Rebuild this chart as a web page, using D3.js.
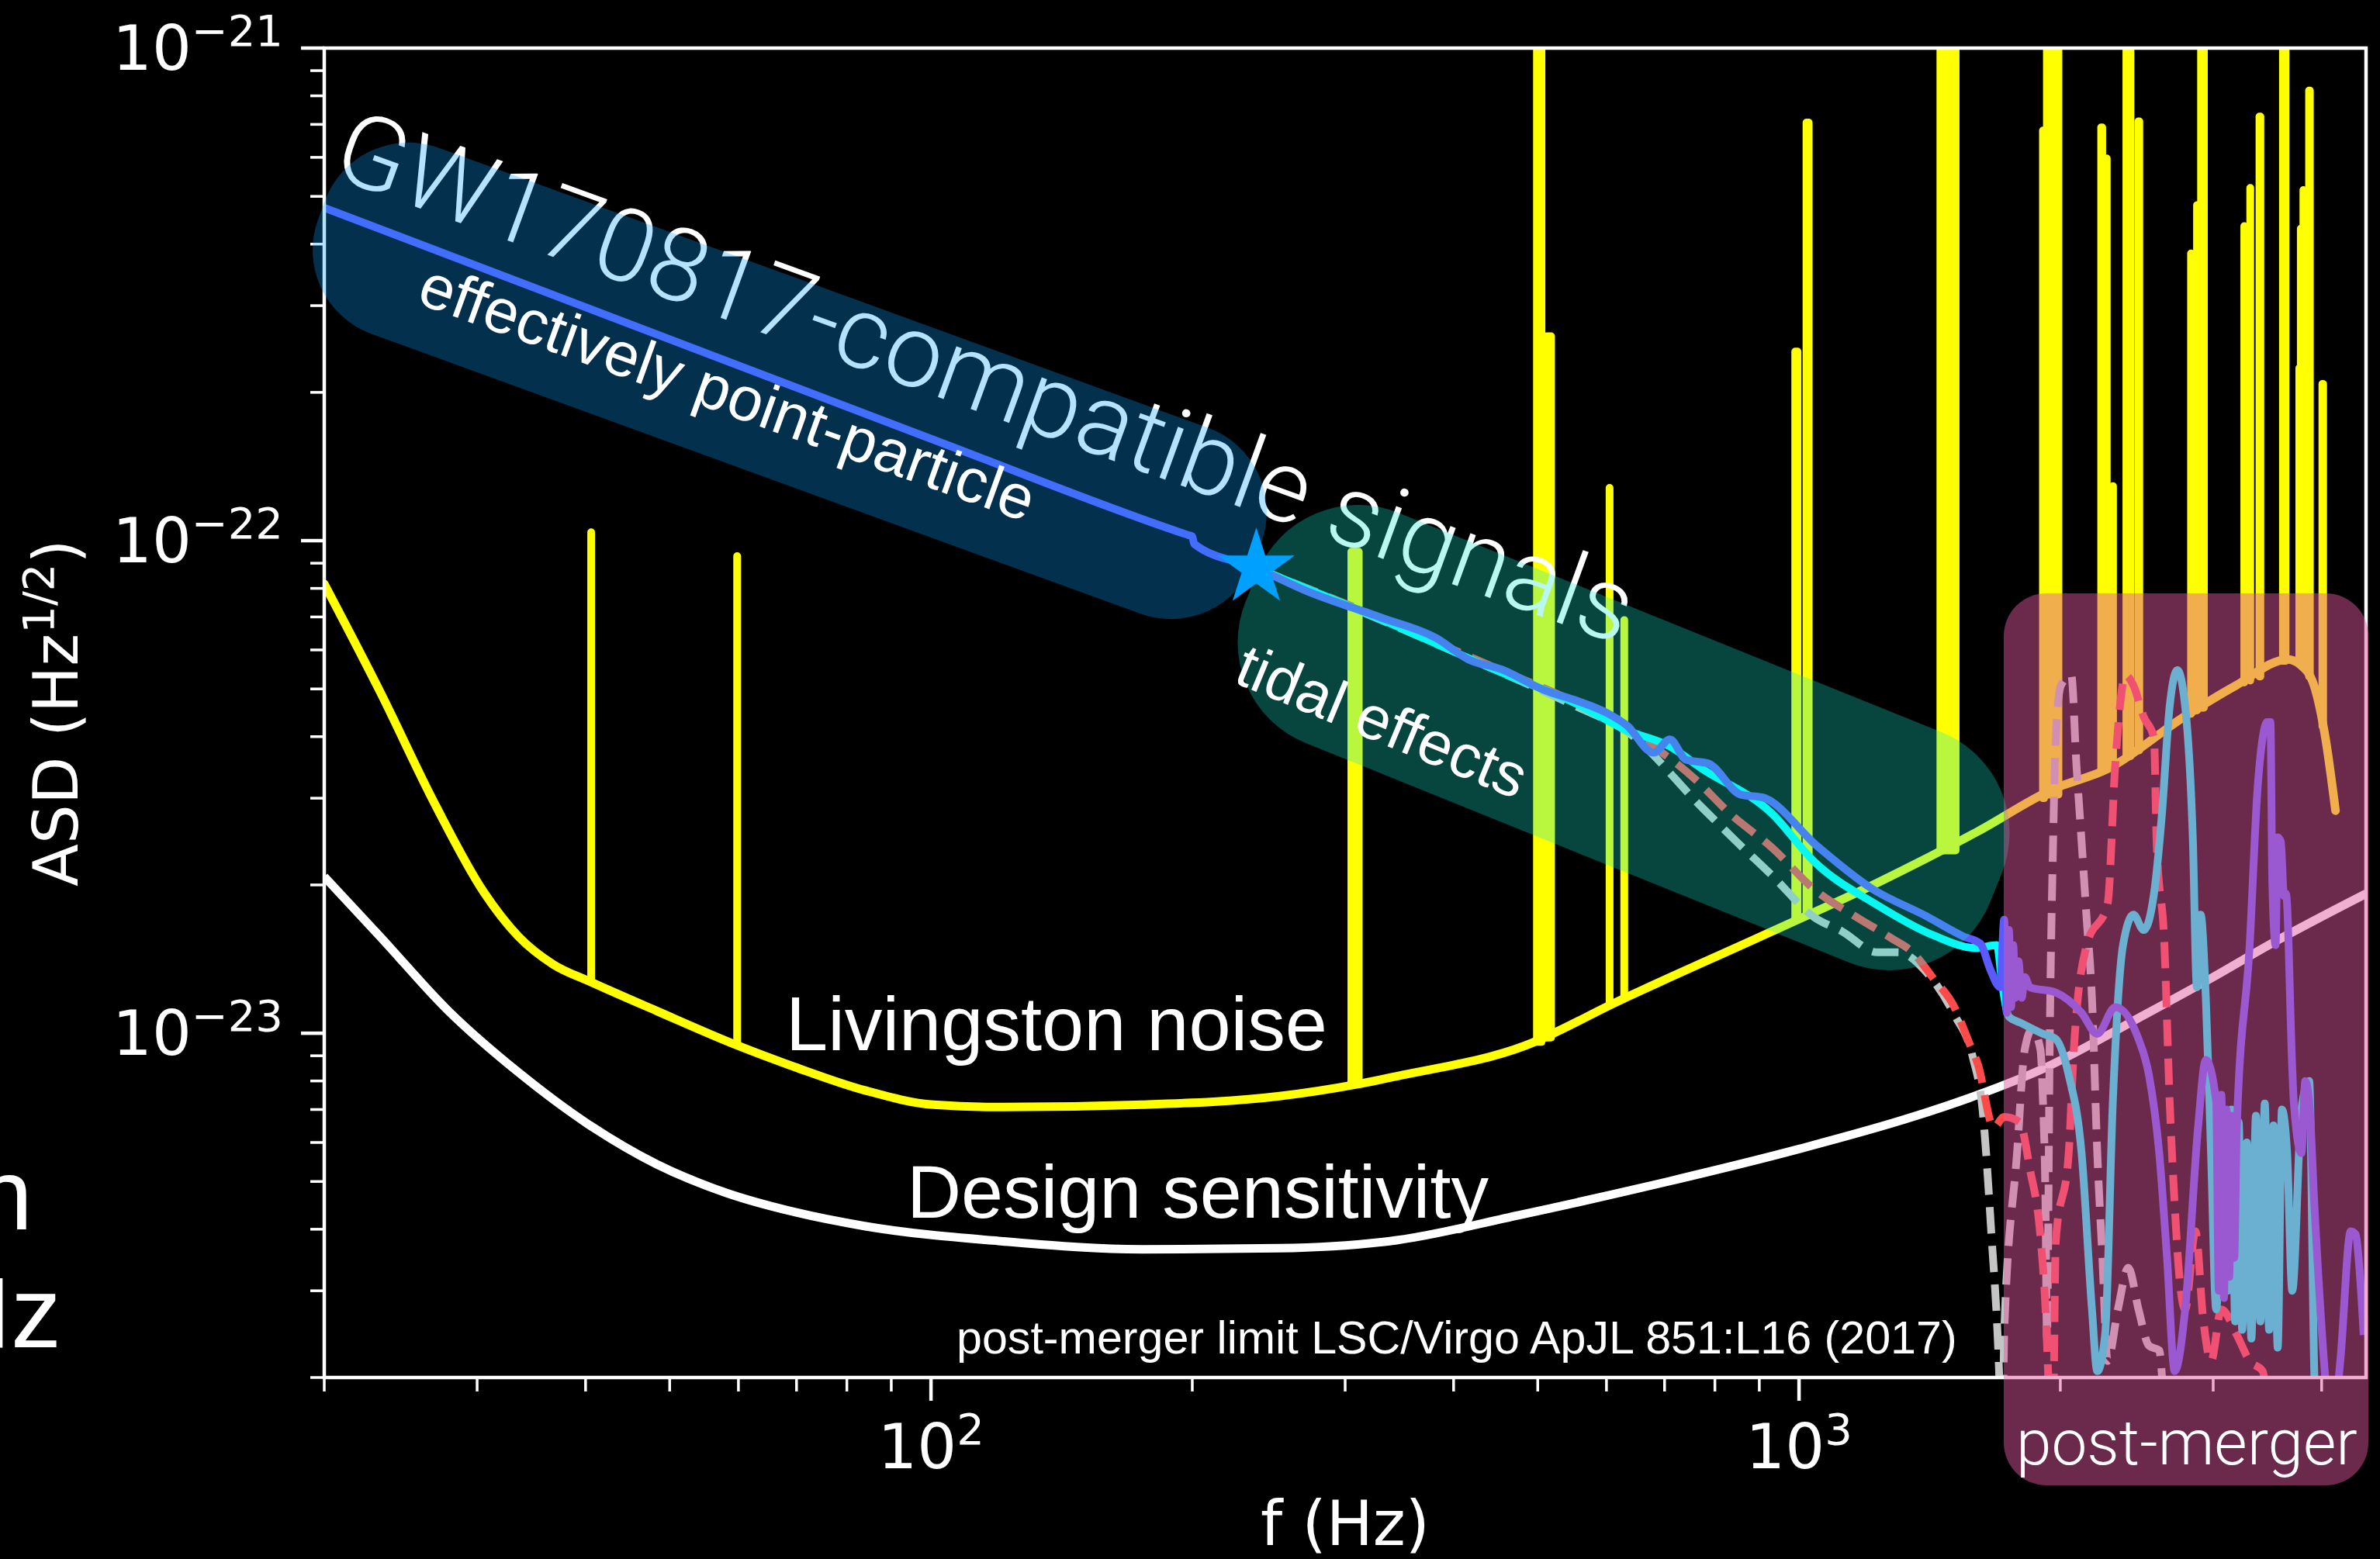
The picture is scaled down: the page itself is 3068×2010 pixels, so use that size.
<!DOCTYPE html>
<html>
<head>
<meta charset="utf-8">
<script src="https://cdn.jsdelivr.net/npm/d3@7"></script>
<style>
  html, body { margin: 0; padding: 0; background: #000; }
  svg { display: block; }
</style>
</head>
<body>
<svg id="chart" width="3068" height="2010"></svg>
<script>
// ---------- data ----------
const freqDomain = [20, 4500];          // Hz
const asdDomain  = [2e-24, 1e-21];      // Hz^-1/2

const xMajorTicks = [100, 1000];
const xTickExps   = ["2", "3"];
const yMajorTicks = [1e-23, 1e-22, 1e-21];
const yTickExps   = ["\u221223", "\u221222", "\u221221"];

// LIGO Livingston noise floor (smooth part), [f, ASD]
const livingstonNoise = [
  [20, 8.17e-23], [23.2, 4.93e-23], [26.9, 2.89e-23], [30.5, 1.94e-23], [33.5, 1.57e-23],
  [36.7, 1.38e-23], [40.6, 1.27e-23], [48.3, 1.11e-23], [59.7, 9.46e-24], [69.8, 8.53e-24],
  [83.8, 7.66e-24], [100.7, 7.16e-24], [121, 7.08e-24], [175, 7.16e-24], [252, 7.45e-24],
  [309, 7.87e-24], [344, 8.18e-24], [484, 9.44e-24], [618, 1.16e-23], [931, 1.61e-23],
  [1231, 2.02e-23], [1608, 2.57e-23], [1962, 3.13e-23], [2267, 3.44e-23], [2783, 4.40e-23],
  [3186, 5.08e-23], [3656, 5.74e-23], [3780, 5.60e-23], [3920, 5.08e-23], [4040, 3.98e-23],
  [4150, 2.83e-23]
];

// Livingston spectral lines: [f low, f high, floor, peak]
const livingstonLines = [
  [40.6, 40.6, 1.27e-23, 1.04e-22],
  [59.8, 59.8, 9.5e-24, 9.3e-23],
  [305, 311, 7.9e-24, 9.5e-23],
  [499, 505, 9.6e-24, 3e-21],
  [512, 518, 9.8e-24, 2.6e-22],
  [605, 605, 1.14e-23, 1.28e-22],
  [629, 629, 1.18e-23, 6.9e-23],
  [990, 996, 1.70e-23, 2.42e-22],
  [1020, 1026, 1.75e-23, 7.06e-22],
  [1455, 1515, 2.35e-23, 3e-21],
  [1910, 1916, 3.0e-23, 6.8e-22],
  [1930, 1990, 3.05e-23, 3e-21],
  [2229, 2235, 3.4e-23, 6.9e-22],
  [2262, 2262, 3.43e-23, 5.97e-22],
  [2300, 2300, 3.48e-23, 1.29e-22],
  [2383, 2409, 3.65e-23, 3e-21],
  [2460, 2466, 3.75e-23, 7.1e-22],
  [2829, 2829, 4.45e-23, 3.83e-22],
  [2874, 2874, 4.52e-23, 4.8e-22],
  [2905, 2927, 4.58e-23, 3e-21],
  [3258, 3258, 5.15e-23, 4.35e-22],
  [3310, 3310, 5.2e-23, 5.2e-22],
  [3392, 3400, 5.3e-23, 7.26e-22],
  [3610, 3635, 5.7e-23, 3e-21],
  [3770, 3770, 5.62e-23, 2.24e-22],
  [3785, 3785, 5.6e-23, 4.3e-22],
  [3811, 3811, 5.55e-23, 5.15e-22],
  [3869, 3877, 5.3e-23, 8.2e-22],
  [4008, 4016, 4.2e-23, 2.08e-22]
];

// Advanced LIGO design sensitivity
const designSensitivity = [
  [20, 2.08e-23], [23.2, 1.57e-23], [27.8, 1.11e-23], [33.5, 8.32e-24], [40.2, 6.55e-24],
  [48.3, 5.42e-24], [58.1, 4.74e-24], [69.8, 4.33e-24], [83.8, 4.06e-24], [121, 3.78e-24],
  [175, 3.64e-24], [252, 3.66e-24], [344, 3.80e-24], [475, 4.27e-24], [710, 5.01e-24],
  [1000, 5.82e-24], [1351, 6.76e-24], [1608, 7.5e-24], [1910, 8.47e-24], [2500, 1.09e-23],
  [3000, 1.30e-23], [3500, 1.52e-23], [4500, 1.92e-23]
];

// Waveform family A (blue): point-particle inspiral, tidal part and post-merger
const signalBlue = [
  [20, 4.74e-22], [100, 1.61e-22], [198, 1.026e-22], [200, 1.02e-22], [201, 9.85e-23],
  [237, 8.8e-23], [270, 7.92e-23], [330, 6.98e-23], [382, 6.34e-23], [416, 5.74e-23],
  [454, 5.48e-23], [509, 4.97e-23], [555, 4.73e-23], [605, 4.44e-23], [633, 4.22e-23],
  [680, 3.71e-23], [710, 3.95e-23], [741, 3.59e-23], [786, 3.53e-23], [857, 3.05e-23],
  [908, 3.01e-23], [1049, 2.40e-23], [1211, 1.97e-23], [1400, 1.73e-23], [1549, 1.57e-23],
  [1618, 1.52e-23], [1660, 1.35e-23], [1705, 1.24e-23], [1723, 1.70e-23], [1735, 1.10e-23],
  [1745, 1.62e-23], [1755, 1.13e-23], [1765, 1.51e-23], [1775, 1.18e-23], [1790, 1.40e-23],
  [1805, 1.18e-23], [1820, 1.30e-23], [1845, 1.24e-23], [1976, 1.21e-23], [2116, 1.10e-23],
  [2206, 9.97e-24], [2314, 1.13e-23], [2461, 9.73e-24], [2530, 8.22e-24], [2600, 5.71e-24],
  [2654, 3.51e-24], [2709, 2.06e-24], [2785, 2.75e-24], [2882, 6.44e-24], [2942, 8.83e-24],
  [3024, 7.27e-24], [3045, 3.0e-24], [3066, 7.5e-24], [3087, 2.9e-24], [3108, 7.0e-24],
  [3130, 3.2e-24], [3151, 6.8e-24], [3172, 3.5e-24], [3194, 6.44e-24], [3305, 1.51e-23],
  [3374, 3.12e-23], [3421, 3.98e-23], [3460, 4.28e-23], [3492, 4.28e-23], [3510, 2.0e-23],
  [3540, 1.51e-23], [3560, 2.5e-23], [3589, 2.45e-23], [3620, 1.9e-23], [3639, 1.92e-23],
  [3700, 8.5e-24], [3715, 7.27e-24], [3791, 5.71e-24], [3830, 8.0e-24], [3870, 7.27e-24],
  [3924, 4.47e-24], [4033, 2.06e-24], [4100, 1.5e-24], [4203, 2.16e-24], [4321, 3.96e-24],
  [4380, 3.9e-24], [4411, 3.51e-24], [4472, 2.44e-24]
];

// Waveform family B (cyan)
const signalCyan = [
  [237, 8.8e-23], [330, 6.92e-23], [454, 5.40e-23], [555, 4.66e-23], [633, 4.12e-23],
  [710, 3.82e-23], [772, 3.45e-23], [931, 2.79e-23], [1041, 2.23e-23], [1231, 1.82e-23],
  [1429, 1.58e-23], [1597, 1.49e-23], [1690, 1.51e-23], [1715, 1.25e-23], [1745, 1.08e-23],
  [1800, 1.05e-23], [1910, 9.97e-24], [1976, 9.73e-24], [2045, 8.22e-24], [2116, 5.71e-24],
  [2175, 2.75e-24], [2206, 2.06e-24], [2252, 2.44e-24], [2299, 7.27e-24], [2362, 1.51e-23],
  [2428, 1.74e-23], [2495, 1.62e-23], [2564, 1.92e-23], [2618, 2.77e-23], [2673, 4.61e-23],
  [2728, 5.46e-23], [2785, 4.61e-23], [2843, 2.45e-23], [2873, 1.24e-23], [2902, 1.74e-23],
  [2942, 1.18e-23], [2983, 5.71e-24], [3024, 2.75e-24], [3087, 6.44e-24], [3120, 3.0e-24],
  [3150, 7.0e-24], [3180, 2.6e-24], [3210, 6.6e-24], [3240, 2.5e-24], [3280, 6.0e-24],
  [3320, 2.4e-24], [3360, 6.8e-24], [3400, 2.6e-24], [3440, 7.2e-24], [3480, 2.5e-24],
  [3520, 6.5e-24], [3560, 2.3e-24], [3600, 7.0e-24], [3650, 5.71e-24], [3700, 3.0e-24],
  [3791, 7.0e-24], [3870, 8.0e-24], [3924, 2.0e-24], [3960, 1.5e-24]
];

// Waveform family C (red, dashed)
const signalRed = [
  [237, 8.8e-23], [330, 6.95e-23], [454, 5.45e-23], [555, 4.68e-23], [633, 4.14e-23],
  [759, 3.28e-23], [833, 2.79e-23], [931, 2.38e-23], [1041, 1.96e-23], [1165, 1.72e-23],
  [1277, 1.56e-23], [1351, 1.46e-23], [1429, 1.29e-23], [1510, 1.13e-23], [1569, 9.6e-24],
  [1608, 8.62e-24], [1676, 6.44e-24], [1723, 6.76e-24], [1795, 6.60e-24], [1845, 5.30e-24],
  [1897, 3.87e-24], [1923, 2.75e-24], [1936, 2.06e-24], [1948, 1.5e-24], [1960, 1.5e-24],
  [1976, 3.78e-24], [2045, 5.71e-24], [2073, 9.27e-24], [2145, 1.51e-23], [2267, 1.83e-23],
  [2314, 3.52e-23], [2378, 5.33e-23], [2428, 5.08e-23], [2495, 4.39e-23], [2564, 3.98e-23],
  [2582, 2.45e-23], [2636, 1.51e-23], [2673, 7.27e-24], [2709, 4.47e-24], [2747, 3.11e-24],
  [2785, 2.75e-24], [2862, 3.96e-24], [2922, 2.62e-24], [2983, 2.16e-24], [3066, 2.75e-24],
  [3194, 2.44e-24], [3305, 2.16e-24], [3421, 2.06e-24], [3480, 1.5e-24]
];

// Waveform family D (grey, dashed)
const signalGrey = [
  [237, 8.8e-23], [330, 6.9e-23], [454, 5.4e-23], [555, 4.6e-23], [633, 4.1e-23],
  [772, 2.88e-23], [847, 2.45e-23], [931, 2.09e-23], [1041, 1.72e-23], [1121, 1.61e-23],
  [1231, 1.46e-23], [1301, 1.46e-23], [1402, 1.33e-23], [1510, 1.09e-23], [1584, 9.0e-24],
  [1628, 6.93e-24], [1665, 3.96e-24], [1700, 2.06e-24], [1710, 1.5e-24], [1716, 1.5e-24],
  [1723, 2.44e-24], [1783, 5.71e-24], [1820, 9.27e-24], [1857, 1.02e-23], [1897, 9.27e-24],
  [1910, 7.27e-24], [1923, 4.47e-24], [1930, 2.4e-24], [1945, 1.0e-23], [1962, 2.45e-23],
  [1976, 3.98e-23], [2003, 5.08e-23], [2059, 5.33e-23], [2087, 3.52e-23], [2116, 2.45e-23],
  [2145, 1.70e-23], [2175, 1.18e-23], [2206, 5.71e-24], [2236, 3.51e-24], [2267, 2.16e-24],
  [2330, 2.75e-24], [2395, 3.34e-24], [2461, 2.75e-24], [2530, 2.32e-24], [2600, 2.27e-24],
  [2640, 1.5e-24]
];

// where tidal effects start to matter
const tidalOnset = [237, 8.8e-23];

// ---------- layout ----------
const W = 3068, H = 2010;
const plot = { left: 418, right: 3050, top: 62, bottom: 1776 };

const x = d3.scaleLog().domain(freqDomain).range([plot.left, plot.right]);
const y = d3.scaleLog().domain(asdDomain).range([plot.bottom, plot.top]);

const svg = d3.select("#chart");
svg.append("rect").attr("width", W).attr("height", H).attr("fill", "#000");

const defs = svg.append("defs");
defs.append("clipPath").attr("id", "plotClip").append("rect")
  .attr("x", plot.left).attr("y", plot.top)
  .attr("width", plot.right - plot.left).attr("height", plot.bottom - plot.top);

const line = d3.line().x(d => x(d[0])).y(d => y(d[1])).curve(d3.curveMonotoneX);

// ---------- curves ----------
const curves = svg.append("g").attr("clip-path", "url(#plotClip)");

curves.append("path").datum(designSensitivity)
  .attr("d", line).attr("fill", "none").attr("stroke", "#ffffff")
  .attr("stroke-width", 11).attr("stroke-linejoin", "round");

curves.append("path").datum(livingstonNoise)
  .attr("d", line).attr("fill", "none").attr("stroke", "#ffff00")
  .attr("stroke-width", 11).attr("stroke-linejoin", "round").attr("stroke-linecap", "round");

curves.append("g").selectAll("path").data(livingstonLines).join("path")
  .attr("d", d => {
    const x0 = x(d[0]), x1 = x(d[1]), yb = y(d[2]), yt = y(d[3]);
    return `M${x0},${yb}L${x0},${yt}L${x1},${yt}L${x1},${yb}Z`;
  })
  .attr("fill", "#ffff00").attr("stroke", "#ffff00")
  .attr("stroke-width", 10).attr("stroke-linejoin", "round");

const signalStyles = [
  { data: signalGrey, color: "#c4c4c4", width: 10, dash: "34,16" },
  { data: signalRed,  color: "#ff4a4a", width: 10, dash: "34,16" },
  { data: signalCyan, color: "#00ffff", width: 10, dash: null },
  { data: signalBlue, color: "#5a5aff", width: 10, dash: null }
];
signalStyles.forEach(s => {
  curves.append("path").datum(s.data)
    .attr("d", line).attr("fill", "none").attr("stroke", s.color)
    .attr("stroke-width", s.width).attr("stroke-linejoin", "round")
    .attr("stroke-dasharray", s.dash);
});

// ---------- axes ----------
const axes = svg.append("g").attr("stroke", "#fff").attr("fill", "none");
axes.append("rect")
  .attr("x", plot.left).attr("y", plot.top)
  .attr("width", plot.right - plot.left).attr("height", plot.bottom - plot.top)
  .attr("stroke-width", 4.5);

const isMajor = v => Math.abs(Math.log10(v) - Math.round(Math.log10(v))) < 1e-6;
const yMinor = y.ticks().filter(v => !isMajor(v));
const xMinor = x.ticks().filter(v => !isMajor(v));

axes.selectAll(".ymaj").data(yMajorTicks).join("line")
  .attr("x1", plot.left - 30).attr("x2", plot.left)
  .attr("y1", d => y(d)).attr("y2", d => y(d)).attr("stroke-width", 4.5);
axes.selectAll(".ymin").data(yMinor).join("line")
  .attr("x1", plot.left - 18).attr("x2", plot.left)
  .attr("y1", d => y(d)).attr("y2", d => y(d)).attr("stroke-width", 3.5);
axes.selectAll(".xmaj").data(xMajorTicks).join("line")
  .attr("x1", d => x(d)).attr("x2", d => x(d))
  .attr("y1", plot.bottom).attr("y2", plot.bottom + 30).attr("stroke-width", 4.5);
axes.selectAll(".xmin").data(xMinor).join("line")
  .attr("x1", d => x(d)).attr("x2", d => x(d))
  .attr("y1", plot.bottom).attr("y2", plot.bottom + 18).attr("stroke-width", 3.5);

const tickFont = "DejaVu Sans";
const tickSize = 80;
yMajorTicks.forEach((v, i) => {
  const t = svg.append("text").attr("x", 365).attr("y", y(v) + 28)
    .attr("text-anchor", "end").attr("fill", "#fff")
    .attr("font-family", tickFont).attr("font-size", tickSize);
  t.append("tspan").text("10");
  t.append("tspan").attr("dy", -31).attr("font-size", tickSize * 0.7).text(yTickExps[i]);
});
xMajorTicks.forEach((v, i) => {
  const t = svg.append("text").attr("x", x(v)).attr("y", 1893)
    .attr("text-anchor", "middle").attr("fill", "#fff")
    .attr("font-family", tickFont).attr("font-size", tickSize);
  t.append("tspan").text("10");
  t.append("tspan").attr("dy", -31).attr("font-size", tickSize * 0.7).text(xTickExps[i]);
});

svg.append("text").attr("x", (plot.left + plot.right) / 2).attr("y", 1992)
  .attr("text-anchor", "middle").attr("fill", "#fff")
  .attr("font-family", tickFont).attr("font-size", 80).text("f (Hz)");

const yl = svg.append("text")
  .attr("transform", `translate(100,${(plot.top + plot.bottom) / 2}) rotate(-90)`)
  .attr("text-anchor", "middle").attr("fill", "#fff")
  .attr("font-family", tickFont).attr("font-size", 80);
yl.append("tspan").text("ASD (Hz");
yl.append("tspan").attr("dy", -31).attr("font-size", 56).text("1/2");
yl.append("tspan").attr("dy", 31).text(")");

// ---------- headline (sits beneath the translucent bands) ----------
function fitWidth(sel, target) {
  const len = sel.node().getComputedTextLength();
  const fs = parseFloat(sel.attr("font-size"));
  sel.attr("font-size", fs * target / len);
  return sel;
}

const headline = svg.append("text")
  .attr("transform", "translate(424,226) rotate(20)")
  .attr("fill", "#fff").attr("font-family", "Roboto, 'Liberation Sans', sans-serif")
  .attr("font-weight", 300).attr("font-size", 128)
  .text("GW170817-compatible signals");
fitWidth(headline, 1770);

// ---------- translucent bands ----------
function band(cx, cy, w, h, r, angle, fill) {
  svg.append("rect")
    .attr("x", cx - w / 2).attr("y", cy - h / 2).attr("width", w).attr("height", h)
    .attr("rx", r).attr("ry", r)
    .attr("transform", `rotate(${angle},${cx},${cy})`)
    .attr("fill", fill);
}
band(1018, 491, 1285, 255, 115, 20, "rgba(10,160,255,0.3)");
band(2093, 951, 1035, 320, 140, 22, "rgba(23,230,210,0.3)");
svg.append("rect").attr("x", 2583).attr("y", 765).attr("width", 470).attr("height", 1150)
  .attr("rx", 55).attr("ry", 55).attr("fill", "rgba(223,88,158,0.48)");

// ---------- marker and labels ----------
svg.append("path")
  .attr("d", d3.symbol(d3.symbolStar, 3035)())
  .attr("transform", `translate(${x(tidalOnset[0])},${y(tidalOnset[1])})`)
  .attr("fill", "#00a0ff");

const sans = "'Liberation Sans', Arial, Helvetica, sans-serif";

fitWidth(svg.append("text")
  .attr("transform", "translate(535,390) rotate(19.8)")
  .attr("fill", "#fff").attr("font-family", sans).attr("font-size", 80)
  .text("effectively point-particle"), 837);

fitWidth(svg.append("text")
  .attr("transform", "translate(1588,879) rotate(22.5)")
  .attr("fill", "#fff").attr("font-family", sans).attr("font-size", 79)
  .text("tidal effects"), 397);

fitWidth(svg.append("text").attr("x", 1013).attr("y", 1354)
  .attr("fill", "#fff").attr("font-family", sans).attr("font-size", 96)
  .text("Livingston noise"), 698);

fitWidth(svg.append("text").attr("x", 1169).attr("y", 1570)
  .attr("fill", "#fff").attr("font-family", sans).attr("font-size", 96)
  .text("Design sensitivity"), 750);

fitWidth(svg.append("text").attr("x", 1233).attr("y", 1745)
  .attr("fill", "#fff").attr("font-family", sans).attr("font-size", 58)
  .text("post-merger limit LSC/Virgo ApJL 851:L16 (2017)"), 1290);

fitWidth(svg.append("text").attr("x", 2599).attr("y", 1888)
  .attr("fill", "#fff").attr("font-family", "Roboto, 'Liberation Sans', sans-serif")
  .attr("font-weight", 300).attr("font-size", 80)
  .text("post-merger"), 440);

// text running in from the neighbouring column
svg.append("text").attr("x", 42).attr("y", 1585).attr("text-anchor", "end")
  .attr("fill", "#fff").attr("font-family", sans).attr("font-size", 130).text("n");
svg.append("text").attr("x", 79).attr("y", 1737).attr("text-anchor", "end")
  .attr("fill", "#fff").attr("font-family", sans).attr("font-size", 130).text("Hz");
</script>
</body>
</html>
